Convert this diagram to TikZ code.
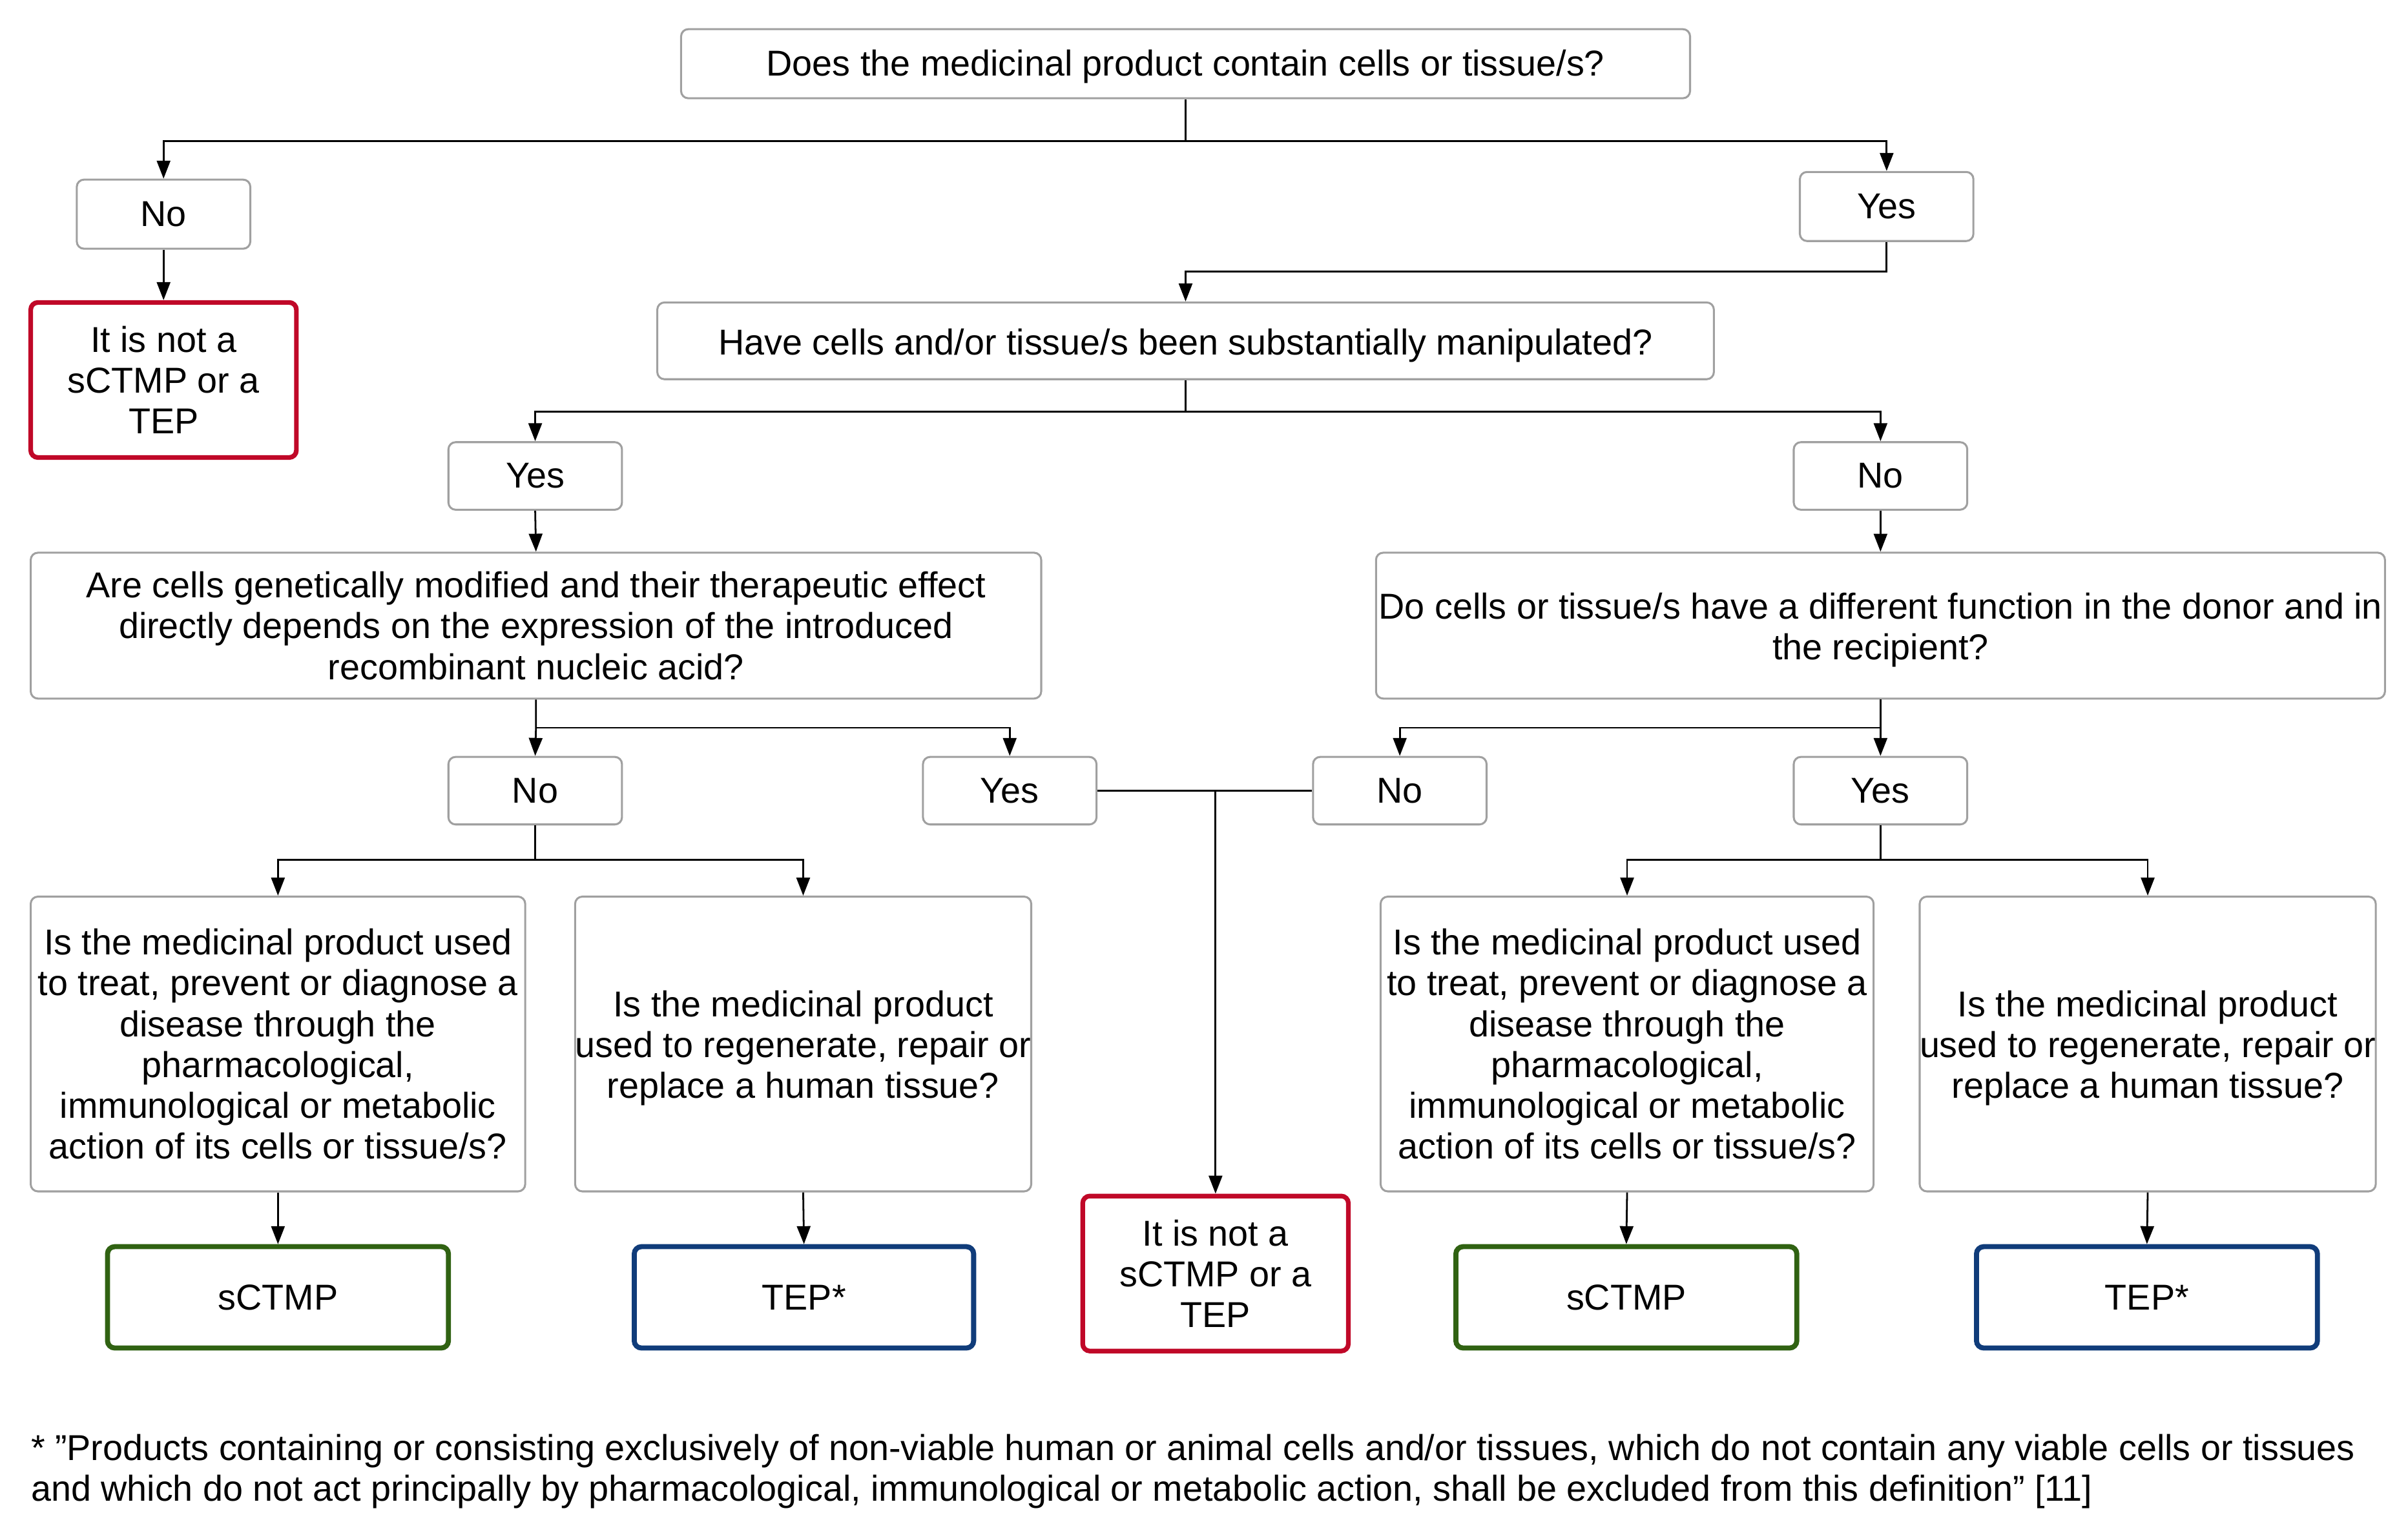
\documentclass[tikz,border=0pt]{standalone}
\usepackage{fontspec}
\setmainfont{Liberation Sans}
\usetikzlibrary{arrows.meta,calc}
\definecolor{boxgray}{RGB}{160,160,160}
\definecolor{redc}{RGB}{192,8,40}
\definecolor{greenc}{RGB}{48,98,18}
\definecolor{bluec}{RGB}{16,60,122}
\newcommand{\lowr}[1]{\rule{0pt}{#1}}
\begin{document}
\begin{tikzpicture}[x=0.03cm,y=0.03cm,
  sz/.style 2 args={minimum width=#1*0.03cm, minimum height=#2*0.03cm},
  txt/.style={font=\fontsize{20}{22.7}\selectfont},
  box/.style={draw=boxgray, line width=1.1pt, rounded corners=4pt, align=center, inner sep=0pt, txt},
  redbox/.style={box, draw=redc, line width=2.6pt},
  greenbox/.style={box, draw=greenc, line width=2.8pt},
  bluebox/.style={box, draw=bluec, line width=2.8pt},
  arr/.style={draw=black, line width=1pt, -{Triangle[length=10pt,width=7.5pt]}},
  ln/.style={draw=black, line width=1pt}
]
\useasboundingbox[fill=white] (0,0) rectangle (1568,-998.5);

% nodes
\node[box, sz={657}{45}] (q1) at (772,-41.5) {\lowr{17.5pt}Does the medicinal product contain cells or tissue/s?};
\node[box, sz={113}{45}] (no1) at (106.5,-139.5) {No};
\node[box, sz={113}{45}] (yes1) at (1228.5,-134.5) {Yes};
\node[redbox, sz={173}{101}] (red1) at (106.5,-247.5) {It is not a\\sCTMP or a\\TEP};
\node[box, sz={688}{50}] (q2) at (772,-222) {\lowr{19.5pt}Have cells and/or tissue/s been substantially manipulated?};
\node[box, sz={113}{44}] (yes2) at (348.5,-310) {Yes};
\node[box, sz={113}{44}] (no2) at (1224.5,-310) {No};
\node[box, sz={658}{95}] (q3) at (349,-407.5) {Are cells genetically modified and their therapeutic effect\\directly depends on the expression of the introduced\\recombinant nucleic acid?};
\node[box, sz={657}{95}] (q4) at (1224.5,-407.5) {\lowr{19.5pt}Do cells or tissue/s have a different function in the donor and in\\the recipient?};
\node[box, sz={113}{44}] (no3) at (348.5,-515) {No};
\node[box, sz={113}{44}] (yes3) at (657.5,-515) {Yes};
\node[box, sz={113}{44}] (no4) at (911.5,-515) {No};
\node[box, sz={113}{44}] (yes4) at (1224.5,-515) {Yes};
\node[redbox, sz={173}{101}] (red2) at (791.5,-829.5) {It is not a\\sCTMP or a\\TEP};
\node[box, sz={322}{192}] (q5) at (181,-680) {Is the medicinal product used\\to treat, prevent or diagnose a\\disease through the\\pharmacological,\\immunological or metabolic\\action of its cells or tissue/s?};
\node[box, sz={294}{192}] (q6) at (523,-680) {\lowr{19pt}Is the medicinal product\\used to regenerate, repair or\\replace a human tissue?};
\node[box, sz={321}{192}] (q7) at (1059.5,-680) {Is the medicinal product used\\to treat, prevent or diagnose a\\disease through the\\pharmacological,\\immunological or metabolic\\action of its cells or tissue/s?};
\node[box, sz={295}{192}] (q8) at (1398.5,-680) {\lowr{19pt}Is the medicinal product\\used to regenerate, repair or\\replace a human tissue?};
\node[greenbox, sz={222}{66}] (s1) at (181,-845) {sCTMP};
\node[bluebox, sz={221}{66}] (t1) at (523.5,-845) {TEP*};
\node[greenbox, sz={222}{66}] (s2) at (1059,-845) {sCTMP};
\node[bluebox, sz={222}{66}] (t2) at (1398,-845) {TEP*};

\node[txt, anchor=north west, align=left, inner sep=0pt] (fn) at (20,-934) {* ”Products containing or consisting exclusively of non-viable human or animal cells and/or tissues, which do not contain any viable cells or tissues\\and which do not act principally by pharmacological, immunological or metabolic action, shall be excluded from this definition” [11]};

% bus points
\coordinate (b1) at (772,-92);
\coordinate (b2) at (772,-177);
\coordinate (b3) at (772,-268);
\coordinate (b4) at (349,-474);
\coordinate (b5) at (1224.5,-474);
\coordinate (b6) at (791.5,-515);
\coordinate (b7) at (348.5,-560);
\coordinate (b8) at (1224.5,-560);

% connectors
\draw[ln] (q1.south) -- (b1);
\draw[arr] (b1) -| (no1.north);
\draw[arr] (b1) -| (yes1.north);
\draw[arr] (no1.south) -- (red1.north);
\draw[arr] (yes1.south) |- (b2) -- (q2.north);
\draw[ln] (q2.south) -- (b3);
\draw[arr] (b3) -| (yes2.north);
\draw[arr] (b3) -| (no2.north);
\draw[arr] (yes2.south) -- (q3.north);
\draw[arr] (no2.south) -- (q4.north);
\draw[arr] (q3.south) -- (b4) -- (no3.north);
\draw[arr] (b4) -| (yes3.north);
\draw[arr] (q4.south) -- (b5) -- (yes4.north);
\draw[arr] (b5) -| (no4.north);
\draw[ln] (yes3.east) -- (no4.west);
\draw[arr] (b6) -- (red2.north);
\draw[ln] (no3.south) -- (b7);
\draw[arr] (b7) -| (q5.north);
\draw[arr] (b7) -| (q6.north);
\draw[ln] (yes4.south) -- (b8);
\draw[arr] (b8) -| (q7.north);
\draw[arr] (b8) -| (q8.north);
\draw[arr] (q5.south) -- (s1.north);
\draw[arr] (q6.south) -- (t1.north);
\draw[arr] (q7.south) -- (s2.north);
\draw[arr] (q8.south) -- (t2.north);
\end{tikzpicture}
\end{document}
